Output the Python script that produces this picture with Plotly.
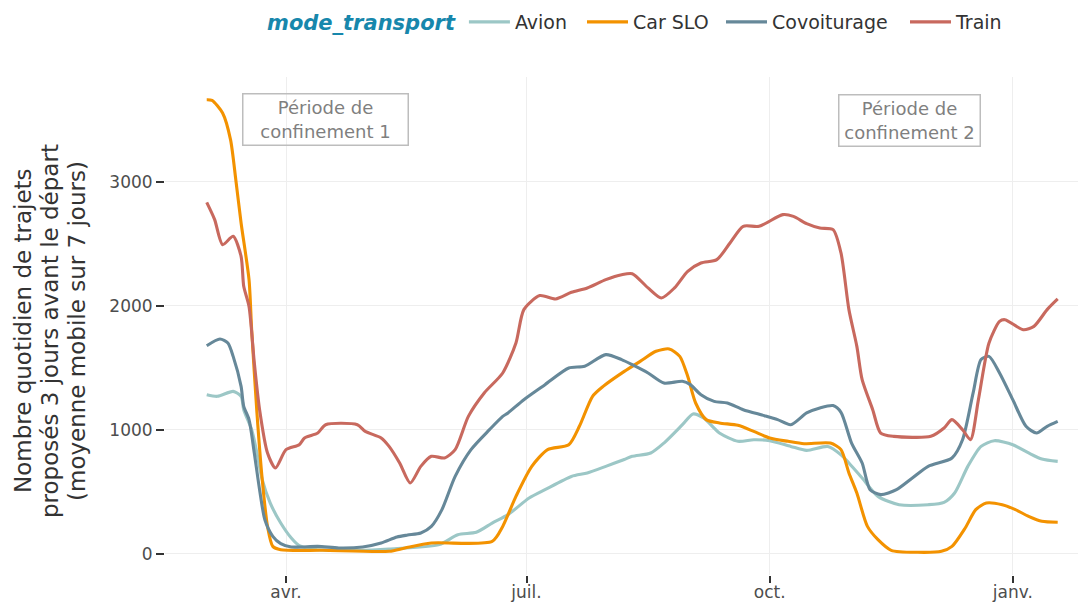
import plotly.graph_objects as go

# ---------------- data (7-day moving average) ----------------
avion_dates = ["2020-03-02","2020-03-06","2020-03-12","2020-03-15","2020-03-16","2020-03-19","2020-03-21",
               "2020-03-23","2020-03-26","2020-03-30","2020-04-03","2020-04-06","2020-04-13","2020-04-28",
               "2020-05-10","2020-05-29","2020-06-05","2020-06-12","2020-06-18","2020-06-24","2020-07-02",
               "2020-07-08","2020-07-18","2020-07-24","2020-07-31","2020-08-07","2020-08-10","2020-08-17",
               "2020-08-22","2020-08-29","2020-09-02","2020-09-06","2020-09-12","2020-09-19","2020-09-25",
               "2020-10-01","2020-10-09","2020-10-15","2020-10-23","2020-10-28","2020-10-31","2020-11-05",
               "2020-11-11","2020-11-19","2020-11-30","2020-12-06","2020-12-10","2020-12-15","2020-12-20",
               "2020-12-25","2021-01-01","2021-01-07","2021-01-12","2021-01-18"]
avion_vals = [1282,1269,1309,1269,1161,1000,812,
              597,409,247,126,65,32,27,
              38,73,153,172,247,315,449,
              516,623,651,704,760,785,812,
              892,1040,1127,1094,973,906,919,
              911,865,833,865,798,731,610,
              462,395,395,414,489,704,865,
              911,879,812,763,744]

car_dates = ["2020-03-02","2020-03-04","2020-03-08","2020-03-11","2020-03-13","2020-03-15","2020-03-18",
             "2020-03-19","2020-03-21","2020-03-23","2020-03-25","2020-03-27","2020-03-30","2020-04-15",
             "2020-05-10","2020-05-16","2020-05-26","2020-06-18","2020-06-22","2020-06-27","2020-07-03",
             "2020-07-09","2020-07-17","2020-07-21","2020-07-26","2020-07-30","2020-08-07","2020-08-13",
             "2020-08-19","2020-08-24","2020-08-28","2020-08-31","2020-09-03","2020-09-07","2020-09-12",
             "2020-09-19","2020-09-25","2020-10-01","2020-10-08","2020-10-14","2020-10-24","2020-10-28",
             "2020-10-31","2020-11-03","2020-11-07","2020-11-11","2020-11-16","2020-11-26","2020-12-05",
             "2020-12-09","2020-12-14","2020-12-18","2020-12-22","2020-12-28","2021-01-02","2021-01-07",
             "2021-01-12","2021-01-18"]
car_vals = [3661,3656,3554,3339,3016,2667,2210,
            1806,1135,597,220,59,32,27,
            19,46,86,99,220,462,704,
            839,879,1027,1269,1349,1470,1551,
            1632,1651,1591,1430,1215,1081,1054,
            1035,986,933,906,887,892,839,
            651,489,220,113,27,11,19,
            59,207,355,409,395,355,301,
            261,253]

covoit_dates = ["2020-03-02","2020-03-07","2020-03-10","2020-03-12","2020-03-15","2020-03-16","2020-03-18",
                "2020-03-20","2020-03-22","2020-03-24","2020-03-27","2020-03-30","2020-04-03","2020-04-13",
                "2020-04-21","2020-04-30","2020-05-07","2020-05-13","2020-05-17","2020-05-22","2020-05-26",
                "2020-05-30","2020-06-04","2020-06-10","2020-06-17","2020-06-22","2020-06-24","2020-06-30",
                "2020-07-08","2020-07-17","2020-07-23","2020-07-31","2020-08-06","2020-08-10","2020-08-16",
                "2020-08-22","2020-08-29","2020-09-01","2020-09-05","2020-09-10","2020-09-15","2020-09-21",
                "2020-09-29","2020-10-04","2020-10-09","2020-10-15","2020-10-20","2020-10-25","2020-10-28",
                "2020-11-01","2020-11-05","2020-11-08","2020-11-12","2020-11-18","2020-11-24","2020-11-30",
                "2020-12-09","2020-12-13","2020-12-17","2020-12-20","2020-12-23","2020-12-27","2021-01-01",
                "2021-01-06","2021-01-10","2021-01-14","2021-01-18"]
covoit_vals = [1677,1731,1699,1591,1349,1188,1081,
               812,516,274,140,81,54,59,
               46,54,86,134,150,167,220,
               355,623,839,1000,1107,1135,1242,
               1363,1497,1511,1605,1565,1524,1457,
               1376,1390,1363,1282,1228,1215,1161,
               1113,1081,1040,1135,1175,1194,1140,
               892,731,516,476,516,610,704,
               772,919,1296,1565,1591,1457,1242,
               1027,973,1027,1067]

train_dates = ["2020-03-02","2020-03-05","2020-03-08","2020-03-12","2020-03-15","2020-03-16","2020-03-18",
               "2020-03-20","2020-03-22","2020-03-25","2020-03-28","2020-04-01","2020-04-06","2020-04-08",
               "2020-04-13","2020-04-16","2020-04-28","2020-05-01","2020-05-07","2020-05-10","2020-05-14",
               "2020-05-18","2020-05-22","2020-05-26","2020-05-31","2020-06-04","2020-06-09","2020-06-15",
               "2020-06-22","2020-06-27","2020-06-30","2020-07-06","2020-07-12","2020-07-18","2020-07-24",
               "2020-07-31","2020-08-06","2020-08-10","2020-08-16","2020-08-21","2020-08-26","2020-08-31",
               "2020-09-05","2020-09-11","2020-09-16","2020-09-21","2020-09-27","2020-10-06","2020-10-10",
               "2020-10-15","2020-10-20","2020-10-25","2020-10-28","2020-10-31","2020-11-03","2020-11-05",
               "2020-11-09","2020-11-12","2020-11-17","2020-12-01","2020-12-06","2020-12-09","2020-12-13",
               "2020-12-16","2020-12-19","2020-12-23","2020-12-27","2020-12-29","2021-01-05","2021-01-09",
               "2021-01-14","2021-01-18"]
train_vals = [2833,2694,2492,2559,2398,2156,1994,
              1540,1161,812,691,839,879,933,
              973,1040,1040,986,933,865,731,
              570,704,785,772,839,1107,1296,
              1457,1699,1968,2081,2054,2108,2143,
              2210,2250,2258,2143,2062,2143,2277,
              2344,2371,2506,2640,2640,2734,2720,
              2661,2626,2613,2425,1968,1672,1403,
              1161,973,946,946,1013,1081,1000,
              919,1242,1699,1873,1887,1806,1833,
              1968,2054]

series_names = ["Avion", "Car SLO", "Covoiturage", "Train"]
series_colors = ["#9CC7C6", "#F39200", "#668899", "#C8695E"]

tick_dates = ["2020-04-01", "2020-07-01", "2020-10-01", "2021-01-01"]
tick_labels = ["avr.", "juil.", "oct.", "janv."]
y_ticks = [0, 1000, 2000, 3000]

annot_texts = ["Période de<br>confinement 1", "Période de<br>confinement 2"]
annot_dates = ["2020-04-16", "2020-11-23"]
annot_y = [3505, 3490]
annot_box_w = [164, 140]

y_title_lines = ["Nombre quotidien de trajets",
                 "proposés 3 jours avant le départ",
                 "(moyenne mobile sur 7 jours)"]

FONT = "DejaVu Sans"
# the page body adds an 8px offset; margins compensate for it
ML, MR, MT, MB = 157, 8, 69, 35
W, H = 1086, 602
PW = W - ML - MR
PH = H - MT - MB

legend_ids = ["legend", "legend2", "legend3", "legend4"]
legend_px = [257, 574, 713, 897]   # left edge of each legend entry, figure px

fig = go.Figure()
all_dates = [avion_dates, car_dates, covoit_dates, train_dates]
all_vals = [avion_vals, car_vals, covoit_vals, train_vals]
for name, color, xs, ys, lg in zip(series_names, series_colors, all_dates, all_vals, legend_ids):
    fig.add_trace(go.Scatter(
        x=xs, y=ys, name=name, mode="lines", legend=lg,
        line=dict(color=color, width=3.1, shape="spline", smoothing=0.7),
    ))

for txt, xd, yv, bw in zip(annot_texts, annot_dates, annot_y, annot_box_w):
    fig.add_annotation(
        x=xd, y=yv, xref="x", yref="y", text=txt, showarrow=False,
        font=dict(family=FONT, size=18, color="#7F7F7F"),
        bordercolor="#BDBDBD", borderwidth=1.5, borderpad=0,
        width=bw, height=50,
        bgcolor="rgba(255,255,255,0)",
    )

# y-axis title, one rotated line each (tighter line spacing as in the reference)
for line_txt, px in zip(y_title_lines, [15, 42, 69]):
    fig.add_annotation(
        x=(px - ML) / PW, y=0.5 - 5 / PH, xref="paper", yref="paper",
        text=line_txt, textangle=-90, showarrow=False,
        xanchor="center", yanchor="middle",
        font=dict(family=FONT, size=23, color="#333333"),
    )

legend_common = dict(
    orientation="h", xref="paper", xanchor="left",
    yref="container", y=1 - 14 / H, yanchor="middle",
    itemwidth=41,
    font=dict(family=FONT, size=19, color="#333333"),
    bgcolor="rgba(0,0,0,0)",
)
layout_legends = {}
for lg, px in zip(legend_ids, legend_px):
    spec = dict(legend_common, x=(px - ML) / PW)
    if lg == "legend":
        spec["title"] = dict(text="mode_transport", side="left",
                             font=dict(family=FONT, size=21, color="#1787AC",
                                       weight="bold", style="italic"))
    layout_legends[lg] = spec

fig.update_layout(
    width=W, height=H,
    margin=dict(l=ML, r=MR, t=MT, b=MB, autoexpand=False),
    paper_bgcolor="white", plot_bgcolor="white",
    font=dict(family=FONT, color="#4D4D4D"),
    showlegend=True,
    xaxis=dict(
        type="date", range=["2020-02-15 05:00", "2021-01-28 17:00"],
        tickvals=tick_dates, ticktext=tick_labels,
        showgrid=True, gridcolor="#EEEEEE", gridwidth=1.2,
        ticks="outside", ticklen=7, tickwidth=1.5, tickcolor="#333333",
        tickfont=dict(family=FONT, size=17, color="#4D4D4D"),
        ticklabelstandoff=-5,
        showline=False, zeroline=False, automargin=False,
    ),
    yaxis=dict(
        range=[-172, 3844],
        tickvals=y_ticks,
        showgrid=True, gridcolor="#EEEEEE", gridwidth=1.2,
        ticks="outside", ticklen=8, tickwidth=1.5, tickcolor="#333333",
        tickfont=dict(family=FONT, size=17, color="#4D4D4D"),
        showline=False, zeroline=False, automargin=False,
    ),
    **layout_legends,
)

fig.write_html("out.html")
